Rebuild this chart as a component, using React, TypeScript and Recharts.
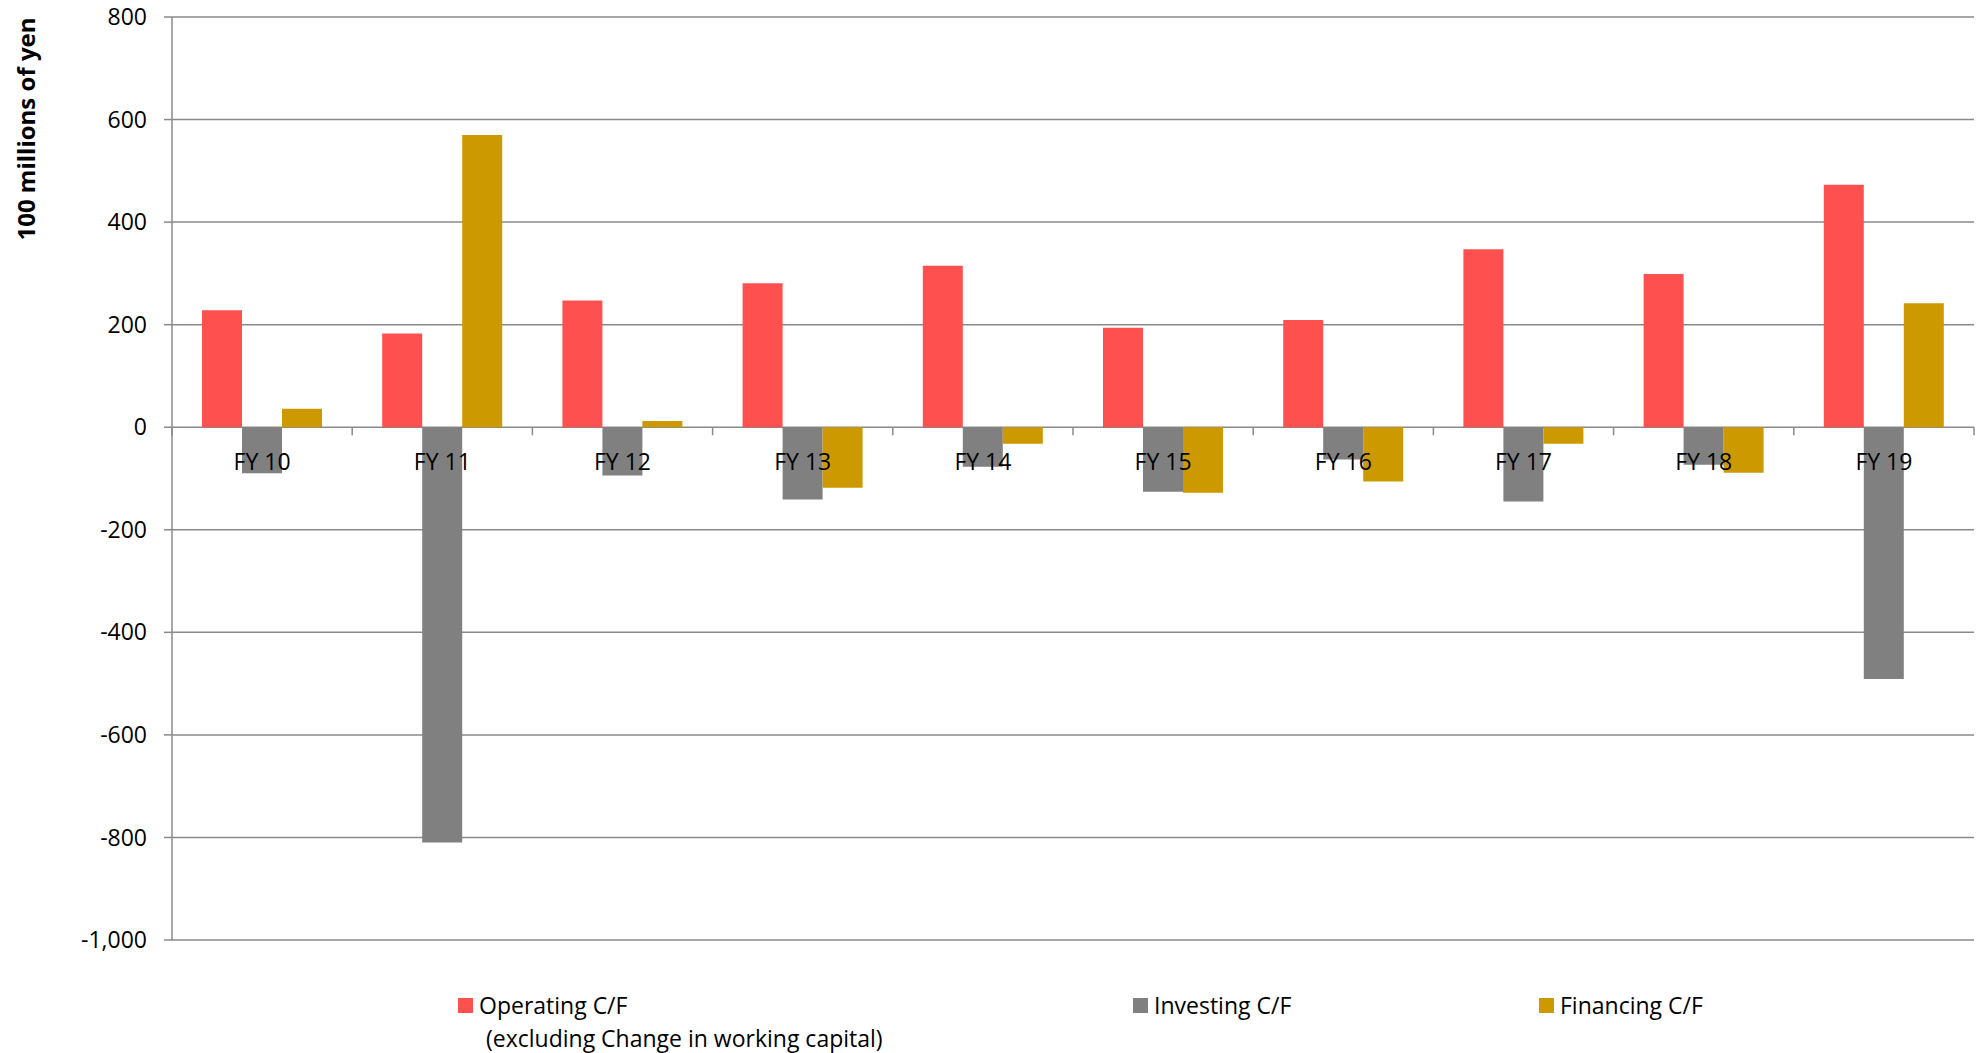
import React from 'react';
import { BarChart, Bar, CartesianGrid, XAxis, YAxis } from 'recharts';

const categories = ['FY 10', 'FY 11', 'FY 12', 'FY 13', 'FY 14', 'FY 15', 'FY 16', 'FY 17', 'FY 18', 'FY 19'];
const operating = [228, 183, 247, 281, 315, 194, 209, 347, 299, 473];
const investing = [-90, -810, -94, -141, -77, -126, -63, -145, -73, -491];
const financing = [36, 570, 12, -118, -32, -128, -106, -32, -89, 242];
const yTicks = [-1000, -800, -600, -400, -200, 0, 200, 400, 600, 800];

const series = [
  { key: 'operating', name: 'Operating C/F', note: '(excluding Change in working capital)', color: '#FF5050' },
  { key: 'investing', name: 'Investing C/F', note: '', color: '#808080' },
  { key: 'financing', name: 'Financing C/F', note: '', color: '#CC9900' },
];

const data = categories.map((label, i) => ({
  label,
  operating: operating[i],
  investing: investing[i],
  financing: financing[i],
}));

const W = 1986;
const H = 1053;
const X_AXIS_H = 20;
const MARGIN = { top: 17, right: 12, bottom: 113 - X_AXIS_H, left: 0 };
const Y_AXIS_W = 172;
const Y_MIN = -1000;
const Y_MAX = 800;
const PLOT_H = H - MARGIN.top - MARGIN.bottom - X_AXIS_H;
const PLOT_W = W - MARGIN.left - MARGIN.right - Y_AXIS_W;
const PLOT_BOTTOM = MARGIN.top + PLOT_H;
const FONT = '"Open Sans", sans-serif';
const AXIS = '#8a8a8a';

// x labels sit under the zero line, not at the bottom of the plot
const renderCategoryTick = (props: any) => {
  const { x, payload, index } = props;
  const zeroY = PLOT_BOTTOM - (PLOT_H * (0 - Y_MIN)) / (Y_MAX - Y_MIN);
  const half = PLOT_W / categories.length / 2;
  return (
    <g key={`tick-${index}`}>
      <line x1={x - half} x2={x - half} y1={zeroY} y2={zeroY + 8} stroke={AXIS} strokeWidth={1.5} />
      {index === categories.length - 1 && (
        <line x1={x + half} x2={x + half} y1={zeroY} y2={zeroY + 8} stroke={AXIS} strokeWidth={1.5} />
      )}
      <text x={x} y={zeroY + 43} textAnchor="middle" fontSize={23} fontFamily={FONT} fill="#000">
        {payload.value}
      </text>
    </g>
  );
};

export default function App() {
  return (
    <div style={{ position: 'absolute', left: 0, top: 0, width: W, height: H, background: '#fff', fontFamily: FONT }}>
      <BarChart width={W} height={H} data={data} margin={MARGIN} barSize={40} barGap={0}>
        <CartesianGrid vertical={false} stroke={AXIS} strokeWidth={1.5} />
        <XAxis
          dataKey="label"
          height={X_AXIS_H}
          axisLine={false}
          tickLine={false}
          interval={0}
          tick={renderCategoryTick}
        />
        <YAxis
          width={Y_AXIS_W}
          domain={[Y_MIN, Y_MAX]}
          ticks={yTicks}
          interval={0}
          axisLine={{ stroke: AXIS, strokeWidth: 1.5 }}
          tickLine={{ stroke: AXIS, strokeWidth: 1.5 }}
          tickSize={8}
          tickMargin={17}
          tickFormatter={(v: number) => v.toLocaleString('en-US')}
          tick={{ fontSize: 23, fontFamily: FONT, fill: '#000' }}
        />
        {series.map((s) => (
          <Bar key={s.key} dataKey={s.key} name={s.name} fill={s.color} isAnimationActive={false} />
        ))}
      </BarChart>

      <div
        style={{
          position: 'absolute',
          left: 25,
          top: 129,
          transform: 'translate(-50%, -50%) rotate(-90deg)',
          whiteSpace: 'nowrap',
          fontWeight: 700,
          fontSize: 24,
          color: '#000',
        }}
      >
        100 millions of yen
      </div>

      {series.map((s, i) => {
        const left = [458, 1133, 1539][i];
        return (
          <div key={s.key} style={{ position: 'absolute', left, top: 989, fontSize: 23, color: '#000', lineHeight: '33px' }}>
            <div style={{ display: 'flex', alignItems: 'center' }}>
              <span style={{ display: 'inline-block', width: 15, height: 15, background: s.color, marginRight: 6 }} />
              <span>{s.name}</span>
            </div>
            {s.note && <div style={{ paddingLeft: 28 }}>{s.note}</div>}
          </div>
        );
      })}
    </div>
  );
}
